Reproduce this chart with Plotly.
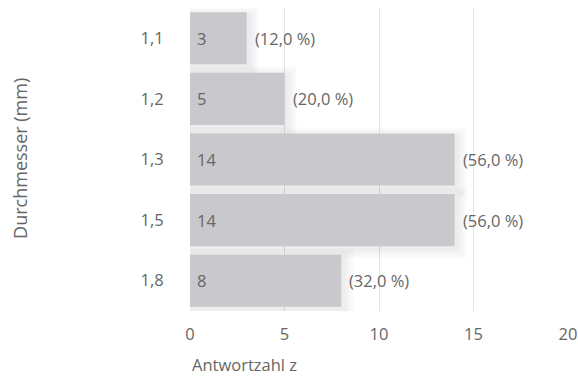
import plotly.graph_objects as go

# Antwortverteilung nach Durchmesser
categories = ["1,1", "1,2", "1,3", "1,5", "1,8"]
counts = [3, 5, 14, 14, 8]
total = 25
x_ticks = [0, 5, 10, 15, 20]

bar_color = "#c8c8cd"
text_color = "#666666"
font_family = "Open Sans"
font_size = 16.5
bar_width = 0.86

# pixel-to-data conversions for the shadow layers
px_y = 1 / 60.7
px_x = 1 / 18.9


def pct_label(v):
    return "(" + f"{v / total * 100:.1f}".replace(".", ",") + " %)"


fig = go.Figure()

# soft drop shadow built from many faint, progressively larger layers
for k in range(1, 10):
    s = k * 1.1
    w = bar_width + 2 * s * px_y
    fig.add_trace(go.Bar(
        y=categories,
        x=[c + (3 + 2 * s) * px_x for c in counts],
        base=[-s * px_x] * len(counts),
        orientation="h", width=w, offset=-w / 2 - 3 * px_y,
        marker=dict(color="rgba(0,0,0,0.009)", line=dict(width=0)),
        hoverinfo="skip", showlegend=False,
    ))

fig.add_trace(go.Bar(
    y=categories, x=counts, orientation="h",
    marker=dict(color=bar_color, line=dict(width=0)),
    showlegend=False, width=bar_width,
))

for cat, c in zip(categories, counts):
    fig.add_annotation(
        x=0, y=cat, xref="x", yref="y", text=str(c),
        showarrow=False, xanchor="left", xshift=5,
        font=dict(family=font_family, size=font_size, color=text_color),
    )
    fig.add_annotation(
        x=c, y=cat, xref="x", yref="y", text=pct_label(c),
        showarrow=False, xanchor="left", xshift=6,
        font=dict(family=font_family, size=font_size, color=text_color),
    )

fig.add_annotation(
    x=0, y=-0.222, xref="paper", yref="paper", text="Antwortzahl z",
    showarrow=False, xanchor="left", yanchor="bottom",
    font=dict(family=font_family, size=font_size, color=text_color),
)
fig.add_annotation(
    x=-0.45, y=0.505, xref="paper", yref="paper", text="Durchmesser (mm)",
    showarrow=False, textangle=-90, xanchor="center", yanchor="middle",
    font=dict(family=font_family, size=18, color=text_color),
)

fig.update_layout(
    width=578, height=378,
    margin=dict(l=190, r=10, t=8, b=67),
    paper_bgcolor="white", plot_bgcolor="white",
    barmode="overlay", bargap=0.14,
    font=dict(family=font_family, size=font_size, color=text_color),
    xaxis=dict(
        range=[0, 20], tickvals=x_ticks, showgrid=True, gridcolor="#e4e4e4",
        gridwidth=1, zeroline=False, showline=False, automargin=False,
        ticks="outside", ticklen=8, tickcolor="rgba(0,0,0,0)",
    ),
    yaxis=dict(
        categoryorder="array", categoryarray=categories[::-1],
        range=[-0.5, len(categories) - 0.5],
        showgrid=False, zeroline=False, showline=False, automargin=False,
        ticks="outside", ticklen=22, tickcolor="rgba(0,0,0,0)",
    ),
)

fig.write_html("out.html")
